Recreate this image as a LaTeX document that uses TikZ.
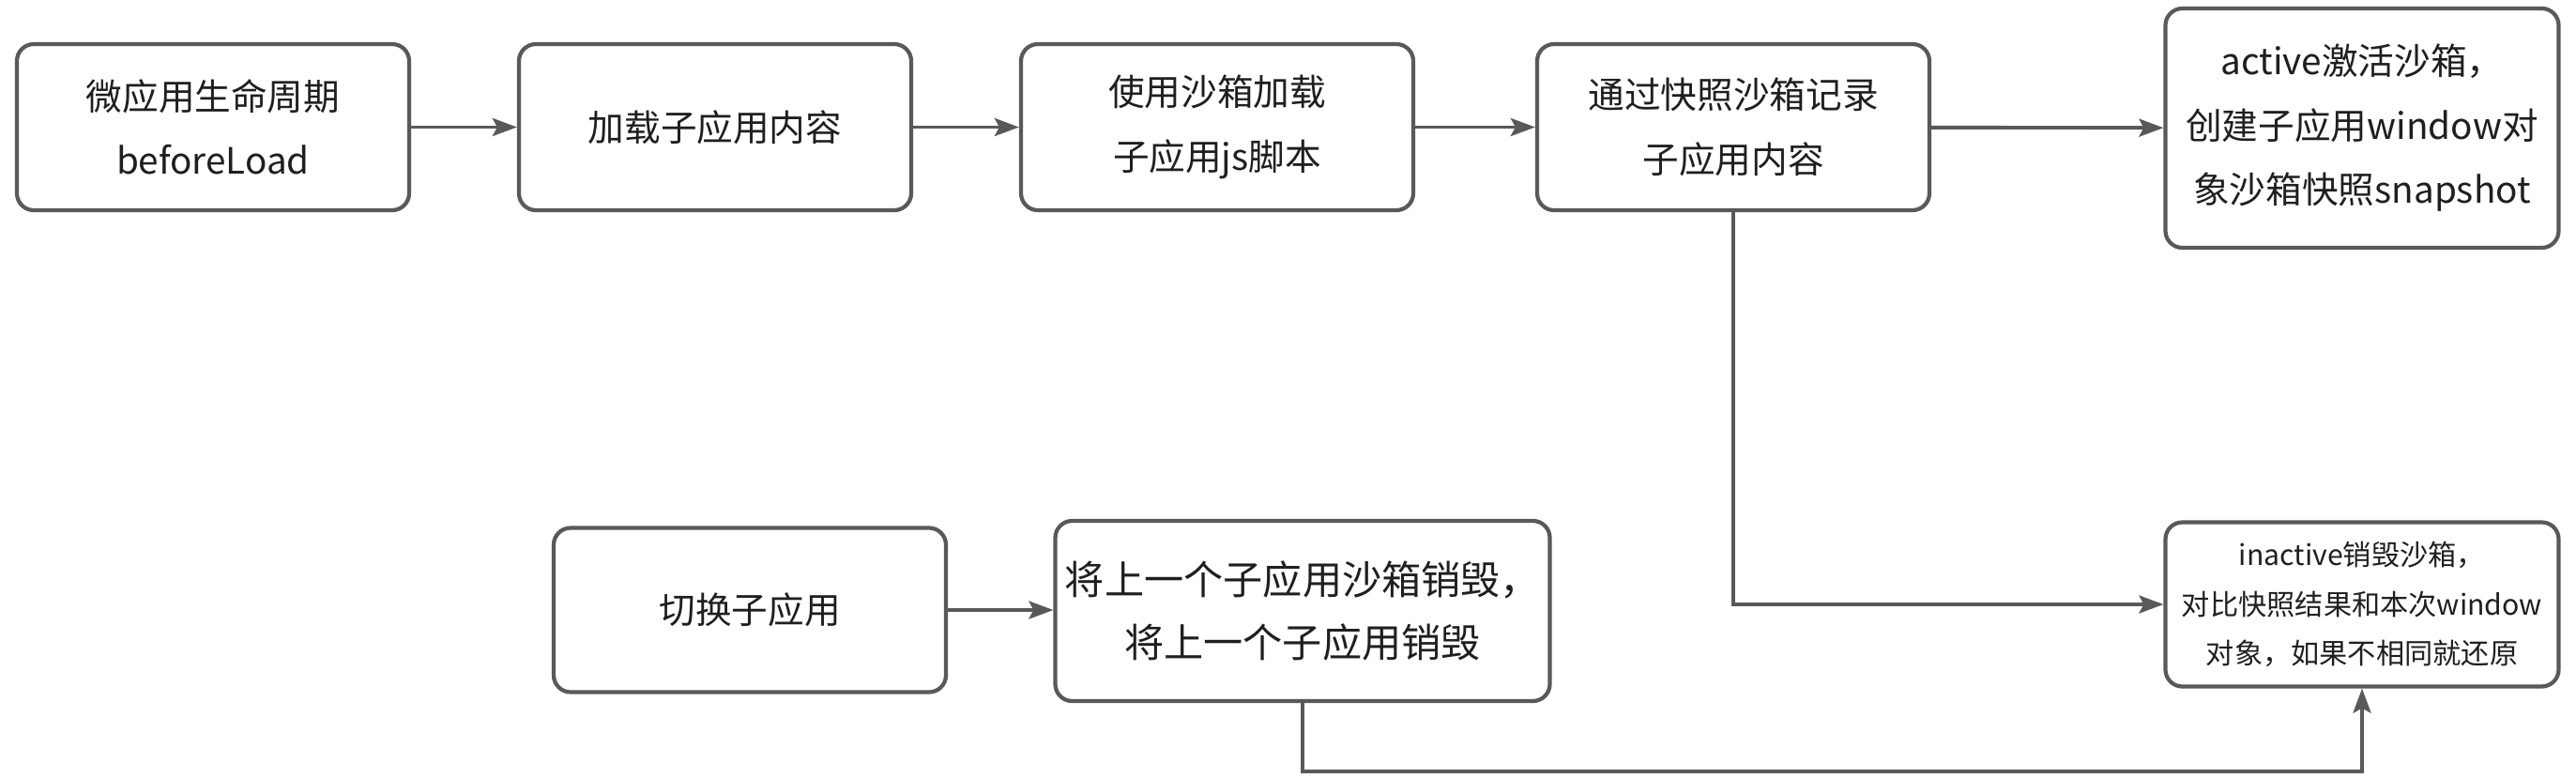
\documentclass[tikz,border=0pt]{standalone}
\usepackage{fontspec}
\setmainfont{Noto Sans CJK SC}
\usetikzlibrary{arrows.meta}
\definecolor{linegray}{HTML}{595959}
\definecolor{textgray}{HTML}{1F1F1F}
\tikzstyle{stage}=[draw=linegray, line width=1.2pt, rounded corners=0.18cm, fill=white, align=center, text=textgray, inner sep=0pt, font=\fontsize{11pt}{19.5pt}\selectfont]
\tikzstyle{flow}=[draw=linegray, line width=1.1pt, -{Stealth[length=0.26cm,width=0.19cm,inset=0.05cm]}]

\begin{document}
\begin{tikzpicture}
\useasboundingbox (0,0) rectangle (27.45,-8.28);
\node[stage, minimum width=4.18cm, minimum height=1.77cm] (Life) at (2.27,-1.355) {微应用生命周期\\beforeLoad};
\node[stage, minimum width=4.18cm, minimum height=1.77cm] (Load) at (7.62,-1.355) {加载子应用内容};
\node[stage, minimum width=4.18cm, minimum height=1.77cm] (Script) at (12.97,-1.355) {使用沙箱加载\\子应用js脚本};
\node[stage, minimum width=4.18cm, minimum height=1.77cm] (Record) at (18.47,-1.355) {通过快照沙箱记录\\子应用内容};
\node[stage, minimum width=4.19cm, minimum height=2.55cm] (Active) at (25.17,-1.365) {active激活沙箱，\\创建子应用window对\\象沙箱快照snapshot};
\node[stage, minimum width=4.18cm, minimum height=1.75cm] (Switch) at (7.99,-6.50) {切换子应用};
\node[stage, minimum width=5.27cm, minimum height=1.92cm, font=\fontsize{12pt}{19pt}\selectfont] (Destroy) at (13.88,-6.51) {将上一个子应用沙箱销毁，\\将上一个子应用销毁};
\node[stage, minimum width=4.19cm, minimum height=1.75cm, font=\fontsize{8.6pt}{15pt}\selectfont] (Inactive) at (25.17,-6.44) {inactive销毁沙箱，\\对比快照结果和本次window\\对象，如果不相同就还原};
\coordinate (Turn) at (13.88,-8.22);
\draw[flow] (Life) -- (Load);
\draw[flow] (Load) -- (Script);
\draw[flow] (Script) -- (Record);
\draw[flow] (Record) -- (Active);
\draw[flow] (Switch) -- (Switch -| Destroy.west);
\draw[flow] (Record.south) |- (Inactive.west);
\draw[flow] (Destroy.south) -- (Turn) -| (Inactive.south);
\end{tikzpicture}
\end{document}
